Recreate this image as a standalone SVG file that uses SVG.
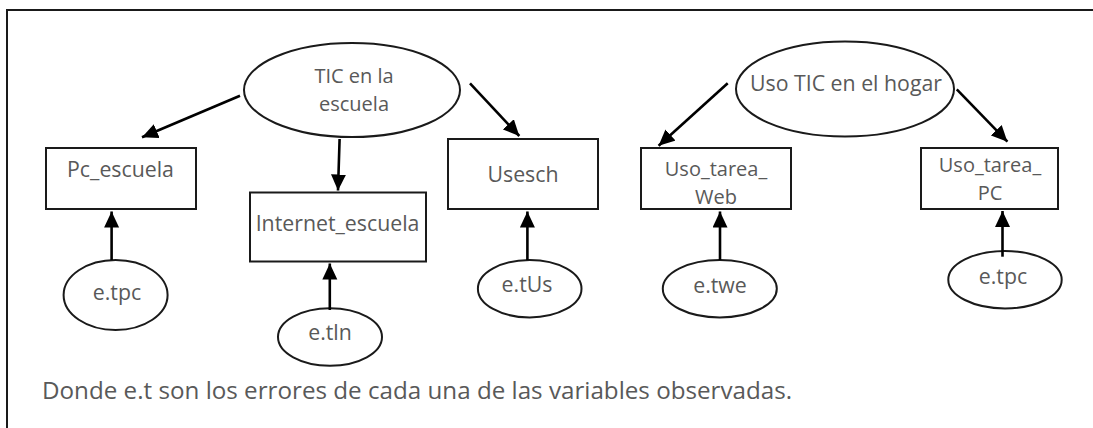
<svg xmlns="http://www.w3.org/2000/svg" width="1093" height="428" viewBox="0 0 1093 428">
<defs>
<marker id="ah" markerUnits="userSpaceOnUse" markerWidth="17" markerHeight="16" refX="16" refY="7.5" orient="auto">
<path d="M0,0 L16,7.5 L0,15 Z" fill="#000"/>
</marker>
</defs>
<style>
.n{fill:#fff;stroke:#1a1a1a;stroke-width:2}
.t{font-family:"Open Sans","Noto Sans",sans-serif;font-size:21.3px;fill:#595959;text-anchor:middle}
.t2{font-size:20px}
.c line{stroke:#000;stroke-width:2.6;marker-end:url(#ah)}
</style>
<rect width="1093" height="428" fill="#fff"/>
<path d="M7,428 V10 H1093" fill="none" stroke="#1a1a1a" stroke-width="2"/>
<g id="tic_escuela"><ellipse class="n" cx="352" cy="90" rx="108" ry="47"/><text class="t t2" x="354" y="83">TIC en la</text><text class="t t2" x="354" y="110.5">escuela</text></g>
<g id="tic_hogar"><ellipse class="n" cx="845" cy="89" rx="109" ry="47.5"/><text class="t" x="846" y="91">Uso TIC en el hogar</text></g>
<g id="pc_escuela"><rect class="n" x="46" y="148" width="150" height="61"/><text class="t" x="120.5" y="177">Pc_escuela</text></g>
<g id="internet_escuela"><rect class="n" x="250" y="192.5" width="176" height="69"/><text class="t" x="337.5" y="230.5">Internet_escuela</text></g>
<g id="usesch"><rect class="n" x="448" y="139" width="150" height="70"/><text class="t" x="523" y="182">Usesch</text></g>
<g id="uso_tarea_web"><rect class="n" x="641" y="148" width="150" height="61"/><text class="t t2" x="716" y="176">Uso_tarea_</text><text class="t t2" x="716" y="203.5">Web</text></g>
<g id="uso_tarea_pc"><rect class="n" x="921" y="148" width="137" height="61"/><text class="t t2" x="990" y="172">Uso_tarea_</text><text class="t t2" x="990" y="199.5">PC</text></g>
<g id="e_tpc"><ellipse class="n" cx="115.6" cy="295" rx="52" ry="35"/><text class="t" x="117" y="300">e.tpc</text></g>
<g id="e_tln"><ellipse class="n" cx="330" cy="337" rx="52" ry="28.7"/><text class="t" x="330" y="340">e.tln</text></g>
<g id="e_tus"><ellipse class="n" cx="529.7" cy="288.7" rx="51.8" ry="28.7"/><text class="t" x="527" y="292">e.tUs</text></g>
<g id="e_twe"><ellipse class="n" cx="719.8" cy="288.7" rx="57" ry="28.7"/><text class="t" x="720" y="293">e.twe</text></g>
<g id="e_tpc2"><ellipse class="n" cx="1005" cy="279.7" rx="56.7" ry="28.7"/><text class="t" x="1003" y="284">e.tpc</text></g>
<g id="connectors" class="c">
<line x1="240" y1="95.7" x2="142" y2="137.3"/>
<line x1="339.6" y1="139" x2="338" y2="190.5"/>
<line x1="470" y1="83.3" x2="519.3" y2="136"/>
<line x1="727.7" y1="83.3" x2="658.6" y2="145.7"/>
<line x1="956.8" y1="89.3" x2="1007.4" y2="141.7"/>
<line x1="111.6" y1="260" x2="111.6" y2="211.5"/>
<line x1="329.8" y1="310" x2="329.8" y2="263.5"/>
<line x1="527.4" y1="260" x2="527.4" y2="211.5"/>
<line x1="720" y1="260" x2="720" y2="211.5"/>
<line x1="1002.5" y1="256.7" x2="1002.5" y2="211"/>
</g>
<text class="t" x="42" y="398.5" style="text-anchor:start;font-size:24.2px">Donde e.t son los errores de cada una de las variables observadas.</text>
</svg>
